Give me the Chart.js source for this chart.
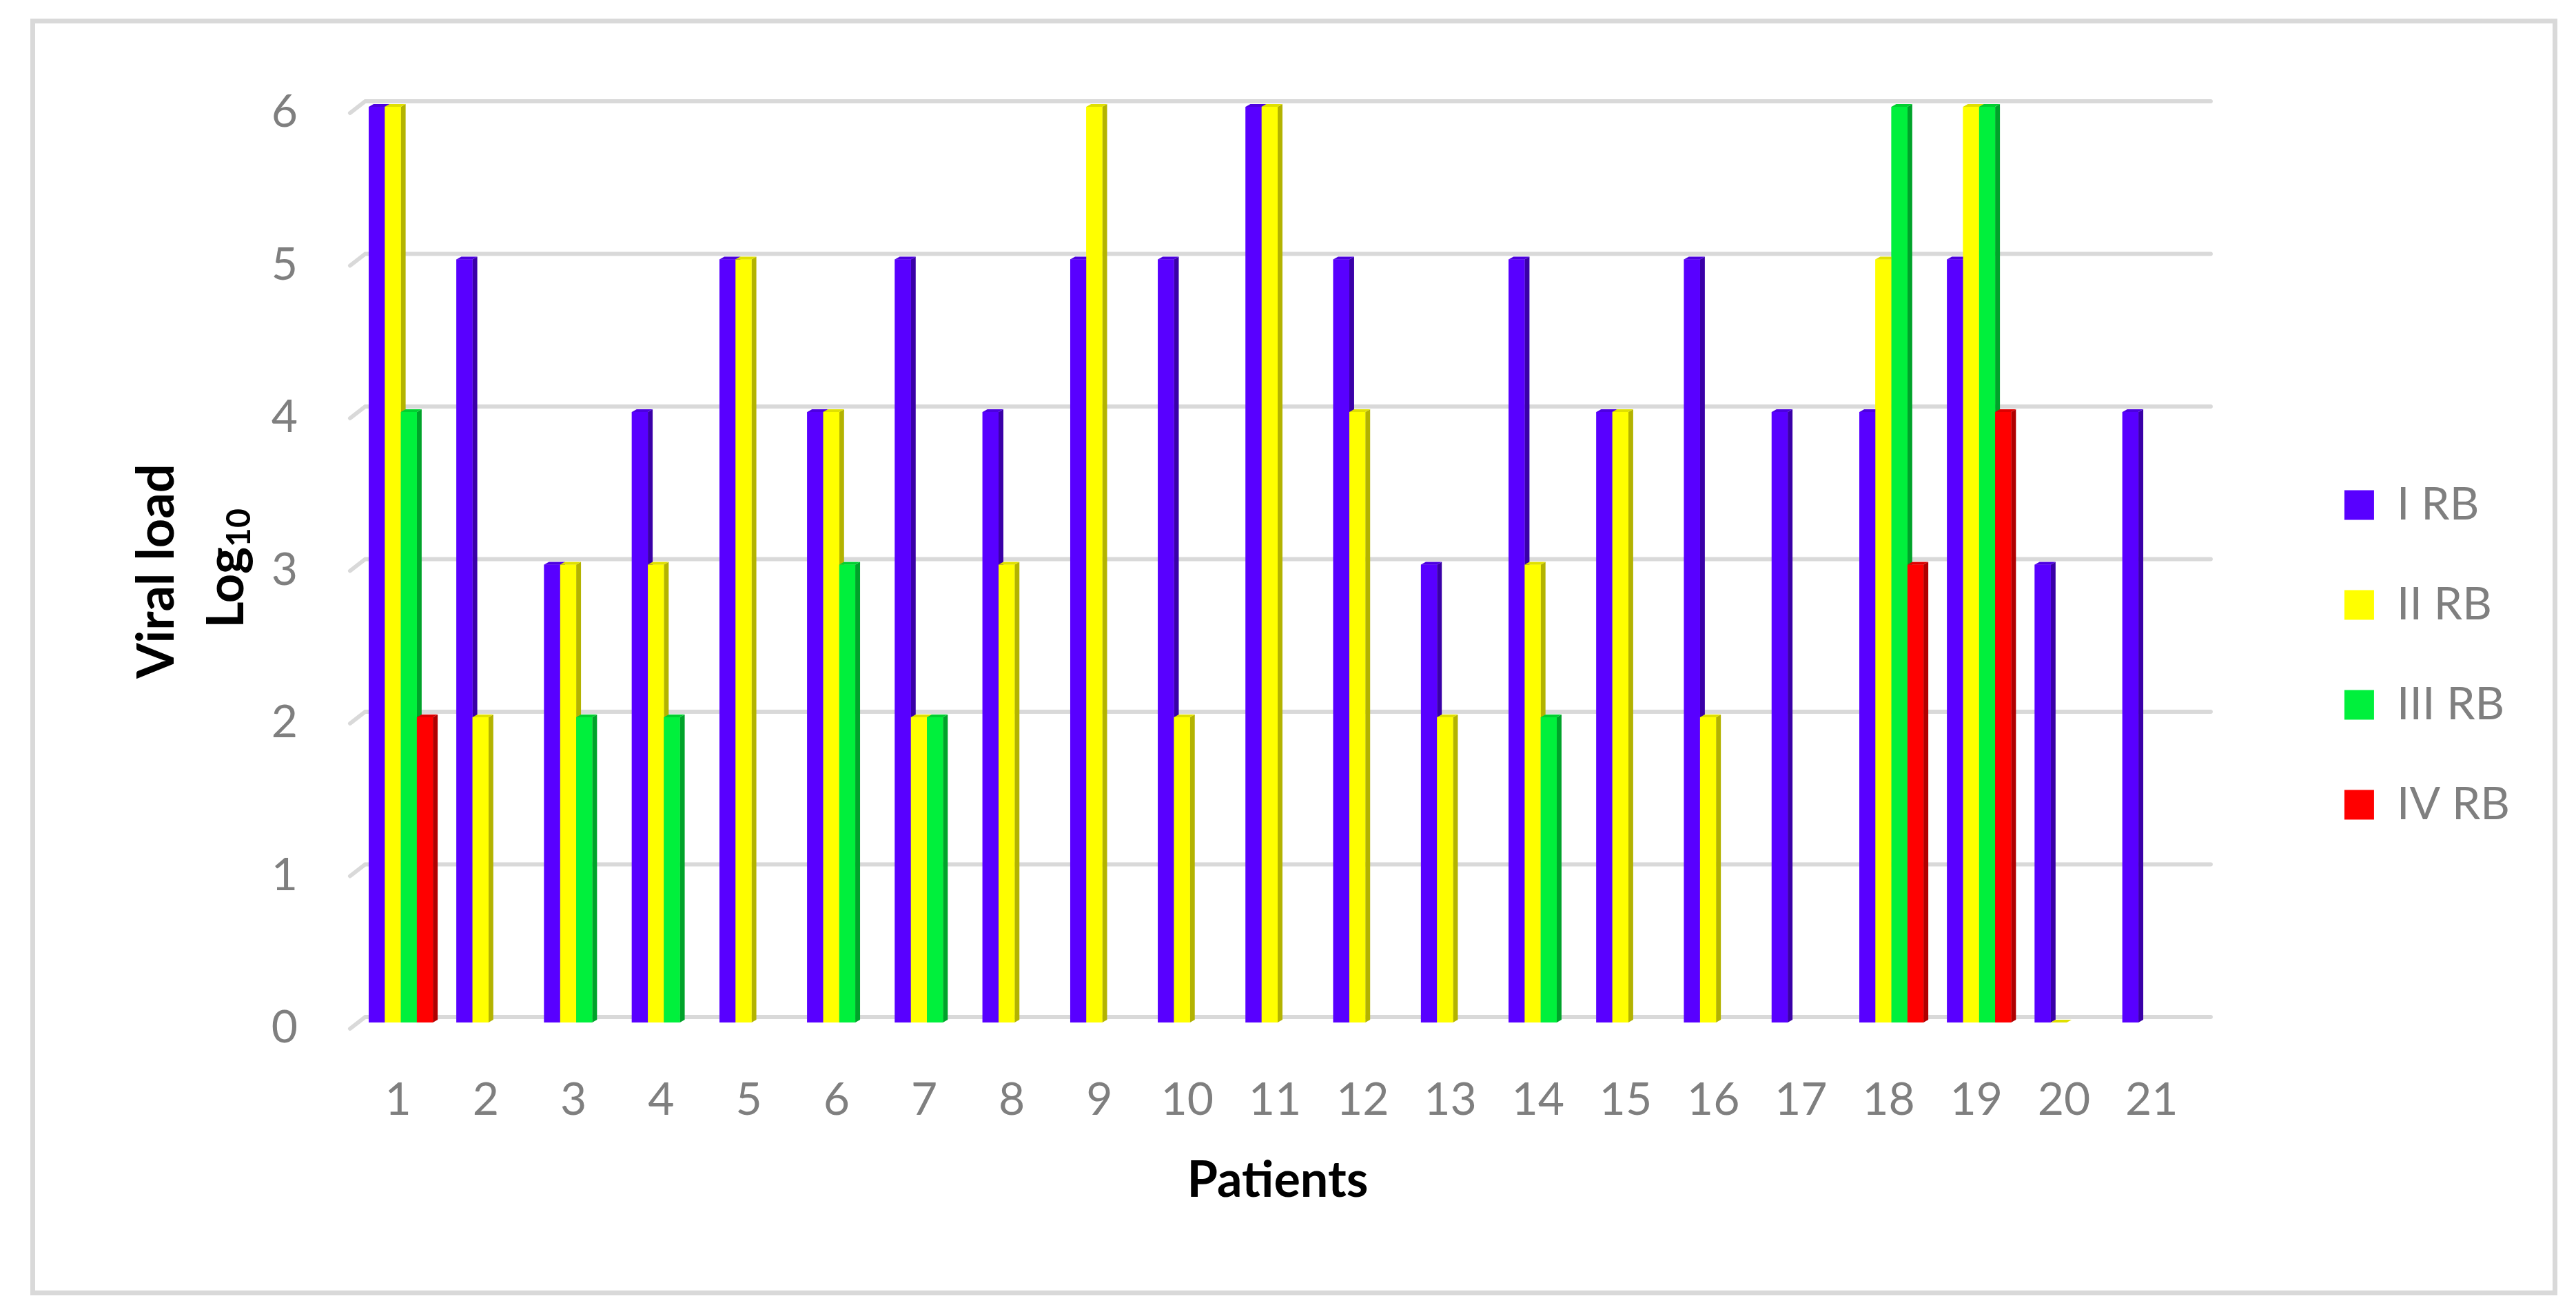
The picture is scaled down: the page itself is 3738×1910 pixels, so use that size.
<!DOCTYPE html>
<html>
<head>
<meta charset="utf-8">
<script src="https://cdn.jsdelivr.net/npm/chart.js@4.4.1/dist/chart.umd.min.js"></script>
<style>
  html, body { margin: 0; padding: 0; background: #fff; }
  #wrap { position: relative; width: 3738px; height: 1910px; }
  #frame { position: absolute; left: 44px; top: 27px; width: 3667px; height: 1853px; border: 7px solid #d9d9d9; box-sizing: border-box; }
  #viralChart { position: absolute; left: 0; top: 0; }
</style>
</head>
<body>
<div id="wrap">
  <div id="frame"></div>
  <canvas id="viralChart"></canvas>
</div>
<script>
// Bemorlar va seriyalar
const patients = ['1', '2', '3', '4', '5', '6', '7', '8', '9', '10', '11', '12', '13', '14', '15', '16', '17', '18', '19', '20', '21'];
const seriesNames = ['I RB', 'II RB', 'III RB', 'IV RB'];
const rb1 = [6, 5, 3, 4, 5, 4, 5, 4, 5, 5, 6, 5, 3, 5, 4, 5, 4, 4, 5, 3, 4];
const rb2 = [6, 2, 3, 3, 5, 4, 2, 3, 6, 2, 6, 4, 2, 3, 4, 2, null, 5, 6, 0, null];
const rb3 = [4, null, 2, 2, null, 3, 2, null, null, null, null, null, null, 2, null, null, null, 6, 6, null, null];
const rb4 = [2, null, null, null, null, null, null, null, null, null, null, null, null, null, null, null, null, 3, 4, null, null];
const yTicks = [0, 1, 2, 3, 4, 5, 6];
const yTitle = ['Viral load', 'Log', '10'];
const xTitle = 'Patients';

const frontColors = ['#5800ff', '#ffff00', '#00f03c', '#ff0000'];
const sideColors = ['#3a00a8', '#b3b300', '#00a32a', '#b00000'];
const topColors = ['#4c00e0', '#e0e000', '#00d030', '#dd0000'];

// Orqa devor chiziqlari (3D ko'rinish)
const wallPlugin = {
    id: 'wall',
    beforeDatasetsDraw(chart) {
        const ctx = chart.ctx;
        const area = chart.chartArea;
        const y = chart.scales.y;
        ctx.save();
        ctx.strokeStyle = '#d9d9d9';
        ctx.lineWidth = 6;
        ctx.lineCap = 'round';
        yTicks.forEach(v => {
            const py = y.getPixelForValue(v) - 8;
            ctx.beginPath();
            ctx.moveTo(area.left - 10, py + 17);
            ctx.lineTo(area.left + 12, py);
            ctx.lineTo(area.right + 18, py);
            ctx.stroke();
        });
        ctx.restore();
    }
};

// Ustunlarga yon va ust tomon
const boxPlugin = {
    id: 'box3d',
    afterDatasetsDraw(chart) {
        const ctx = chart.ctx;
        const d = 7, dy = 4;
        ctx.save();
        chart.data.datasets.forEach((ds, di) => {
            const meta = chart.getDatasetMeta(di);
            meta.data.forEach((bar, i) => {
                if (ds.data[i] === null) return;
                const x0 = bar.x - bar.width / 2;
                const x1 = bar.x + bar.width / 2;
                const top = bar.y, base = bar.base;
                ctx.fillStyle = sideColors[di];
                ctx.beginPath();
                ctx.moveTo(x1, top);
                ctx.lineTo(x1 + d, top - dy);
                ctx.lineTo(x1 + d, base - dy);
                ctx.lineTo(x1, base);
                ctx.closePath();
                ctx.fill();
                ctx.fillStyle = frontColors[di];
                ctx.fillRect(x0, top, x1 - x0, base - top);
                ctx.fillStyle = topColors[di];
                ctx.beginPath();
                ctx.moveTo(x0, top);
                ctx.lineTo(x0 + d, top - dy);
                ctx.lineTo(x1 + d, top - dy);
                ctx.lineTo(x1, top);
                ctx.closePath();
                ctx.fill();
            });
        });
        ctx.restore();
    }
};

// Y o'qi nomi (pastki indeks bilan)
const yTitlePlugin = {
    id: 'yTitle',
    afterDraw(chart) {
        const ctx = chart.ctx;
        ctx.save();
        ctx.fillStyle = '#000';
        ctx.textBaseline = 'alphabetic';
        ctx.textAlign = 'left';
        ctx.font = 'bold 74px Lato';
        ctx.translate(252, 829);
        ctx.rotate(-Math.PI / 2);
        const w0 = ctx.measureText(yTitle[0]).width;
        ctx.fillText(yTitle[0], -w0 / 2, 0);
        ctx.restore();

        ctx.save();
        ctx.fillStyle = '#000';
        ctx.textBaseline = 'alphabetic';
        ctx.textAlign = 'left';
        ctx.translate(353, 825);
        ctx.rotate(-Math.PI / 2);
        ctx.font = 'bold 74px Lato';
        const w1 = ctx.measureText(yTitle[1]).width;
        ctx.font = 'bold 48px Lato';
        const w2 = ctx.measureText(yTitle[2]).width;
        const start = -(w1 + w2) / 2;
        ctx.font = 'bold 74px Lato';
        ctx.fillText(yTitle[1], start, 0);
        ctx.font = 'bold 48px Lato';
        ctx.fillText(yTitle[2], start + w1, 10);
        ctx.restore();
    }
};

const datasets = [rb1, rb2, rb3, rb4].map((values, i) => ({
    label: seriesNames[i],
    data: values,
    backgroundColor: frontColors[i],
    borderWidth: 0,
    categoryPercentage: 0.731,
    barPercentage: 1
}));

const ctx = document.getElementById('viralChart').getContext('2d');
const viralChart = new Chart(ctx, {
    type: 'bar',
    data: {
        labels: patients,
        datasets: datasets
    },
    options: {
        responsive: true,
        maintainAspectRatio: false,
        animation: false,
        layout: {
            padding: { left: 0, top: 155, right: 86, bottom: 164 }
        },
        plugins: {
            tooltip: { enabled: false },
            legend: {
                position: 'right',
                align: 'center',
                labels: {
                    boxWidth: 43,
                    boxHeight: 43,
                    padding: 79,
                    color: '#7f7f7f',
                    font: { family: 'Lato', size: 66 }
                }
            }
        },
        scales: {
            x: {
                grid: { display: false },
                border: { display: false },
                ticks: {
                    color: '#7f7f7f',
                    padding: 65,
                    labelOffset: -4,
                    maxRotation: 0,
                    font: { family: 'Lato', size: 66 }
                },
                title: {
                    display: true,
                    text: xTitle,
                    color: '#000',
                    padding: 0,
                    font: { family: 'Lato', size: 72, weight: 'bold', lineHeight: 0.9 }
                },
                afterFit(scale) { scale.height = 262; }
            },
            y: {
                min: 0,
                max: 6,
                grid: { display: false },
                border: { display: false },
                ticks: {
                    stepSize: 1,
                    color: '#7f7f7f',
                    padding: 78,
                    labelOffset: 8,
                    font: { family: 'Lato', size: 66 }
                },
                afterFit(scale) { scale.width = 518; }
            },
            spacer: {
                type: 'linear',
                position: 'right',
                display: true,
                grid: { display: false },
                border: { display: false },
                ticks: { display: false },
                afterFit(scale) { scale.width = 133; }
            }
        }
    },
    plugins: [wallPlugin, boxPlugin, yTitlePlugin]
});
</script>
</body>
</html>
